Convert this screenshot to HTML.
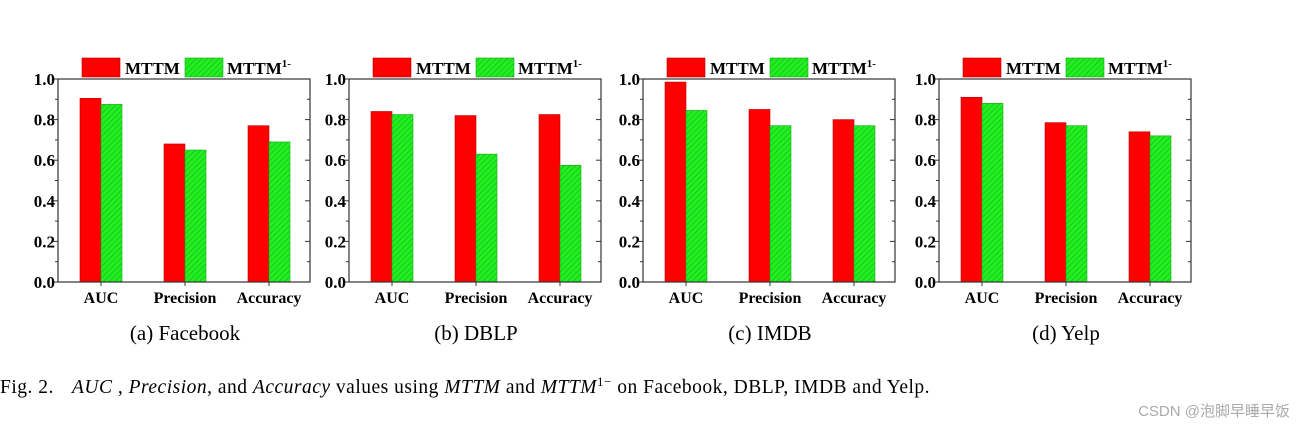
<!DOCTYPE html>
<html><head><meta charset="utf-8">
<style>
html,body{margin:0;padding:0;background:#fff;}
svg{display:block;}
</style></head>
<body>
<svg id="fig" width="1306" height="428" viewBox="0 0 1306 428" xmlns="http://www.w3.org/2000/svg">
<defs>
<pattern id="hatch" patternUnits="userSpaceOnUse" width="4" height="4" patternTransform="rotate(45)">
<rect width="4" height="4" fill="#22ee22"/>
<line x1="0" y1="0" x2="0" y2="4" stroke="#11aa11" stroke-width="1"/>
</pattern>
</defs>
<g id="panels"></g>
<text x="0" y="393" font-family="Liberation Serif, serif" font-size="19.5" letter-spacing="0.5" fill="#000">Fig. 2.<tspan x="72" font-style="italic">AUC</tspan> , <tspan font-style="italic">Precision</tspan>, and <tspan font-style="italic">Accuracy</tspan> values using <tspan font-style="italic">MTTM</tspan> and <tspan font-style="italic">MTTM</tspan><tspan dy="-7" font-size="13">1−</tspan><tspan dy="7"> on Facebook, DBLP, IMDB and Yelp.</tspan></text>
<text x="1290" y="416" text-anchor="end" font-family="Liberation Sans, Noto Sans CJK SC, sans-serif" font-size="15" fill="#aaa">CSDN @泡脚早睡早饭</text>
</svg>
<script>
const categories = ["AUC","Precision","Accuracy"];
const panelTitles = ["(a) Facebook","(b) DBLP","(c) IMDB","(d) Yelp"];
const mttmValues = [[0.905,0.68,0.77],[0.84,0.82,0.825],[0.985,0.85,0.80],[0.91,0.785,0.74]];
const mttm1Values = [[0.875,0.65,0.69],[0.825,0.63,0.575],[0.845,0.77,0.77],[0.88,0.77,0.72]];
const yTicks = [0,0.2,0.4,0.6,0.8,1.0];
const tickLabels = ["0.0","0.2","0.4","0.6","0.8","1.0"];
const legendLabels = ["MTTM","MTTM"];

const NS="http://www.w3.org/2000/svg";
const root=document.getElementById('panels');
const lefts=[58,349,643,939];
const W=252, plotTop=79, plotBot=282;
function mk(tag,attrs,parent){const e=document.createElementNS(NS,tag);for(const k in attrs)e.setAttribute(k,attrs[k]);parent.appendChild(e);return e;}
function yScale(v){return plotBot-(plotBot-plotTop)*v;}
function xScale(i){return 22+i*84;}
const serif="Liberation Serif, serif";
panelTitles.forEach((title,p)=>{
  const L=lefts[p];
  const g=mk('g',{},root);
  
  
  categories.forEach((c,i)=>{
    const x=L+xScale(i);
    const r=mk('rect',{x:x,y:yScale(mttmValues[p][i]),width:21,height:plotBot-yScale(mttmValues[p][i]),fill:'#ff0000',stroke:'#b00','stroke-width':0.6},g);
    
    
    const r2=mk('rect',{x:x+21,y:yScale(mttm1Values[p][i]),width:21,height:plotBot-yScale(mttm1Values[p][i]),fill:'url(#hatch)',stroke:'#1a1','stroke-width':0.6},g);
    
    
    const t=mk('text',{x:x+21,y:plotBot+21,'text-anchor':'middle','font-family':serif,'font-weight':'bold','font-size':16},g);
    t.textContent=c;
    
    
    mk('line',{x1:x+21,y1:plotBot,x2:x+21,y2:plotBot+4,stroke:'#333','stroke-width':1},g);
  });
  const fr=mk('rect',{x:L,y:plotTop,width:W,height:plotBot-plotTop,fill:'none',stroke:'#333','stroke-width':1.2},g);
  
  
  for(let k=0;k<=10;k++){
    const y=yScale(k/10), len=k%2==0?5:3;
    mk('line',{x1:L-len,y1:y,x2:L,y2:y,stroke:'#333','stroke-width':1},g);
    mk('line',{x1:L+W,y1:y,x2:L+W-len,y2:y,stroke:'#333','stroke-width':1},g);
  }
  yTicks.forEach((v,k)=>{
    const t=mk('text',{x:L-3,y:yScale(v)+6,'text-anchor':'end','font-family':serif,'font-weight':'bold','font-size':17},g);
    t.textContent=tickLabels[k];
    
    
  });
  const lg=mk('g',{},g);
  
  
  mk('rect',{x:L+24,y:58,width:38,height:19,fill:'#ff0000',stroke:'#b00','stroke-width':0.6},lg);
  const t1=mk('text',{x:L+67,y:74,'font-family':serif,'font-weight':'bold','font-size':17},lg);
  t1.textContent=legendLabels[0];
  
  
  mk('rect',{x:L+127,y:58,width:38,height:19,fill:'url(#hatch)',stroke:'#1a1','stroke-width':0.6},lg);
  const t2=mk('text',{x:L+169,y:74,'font-family':serif,'font-weight':'bold','font-size':17},lg);
  t2.innerHTML=legendLabels[1]+'<tspan dy="-7" font-size="11">1-</tspan>';
  
  
  const cap=mk('text',{x:L+127,y:340,'text-anchor':'middle','font-family':serif,'font-size':21},g);
  cap.textContent=title;
  
  
});
</script>
</body></html>
